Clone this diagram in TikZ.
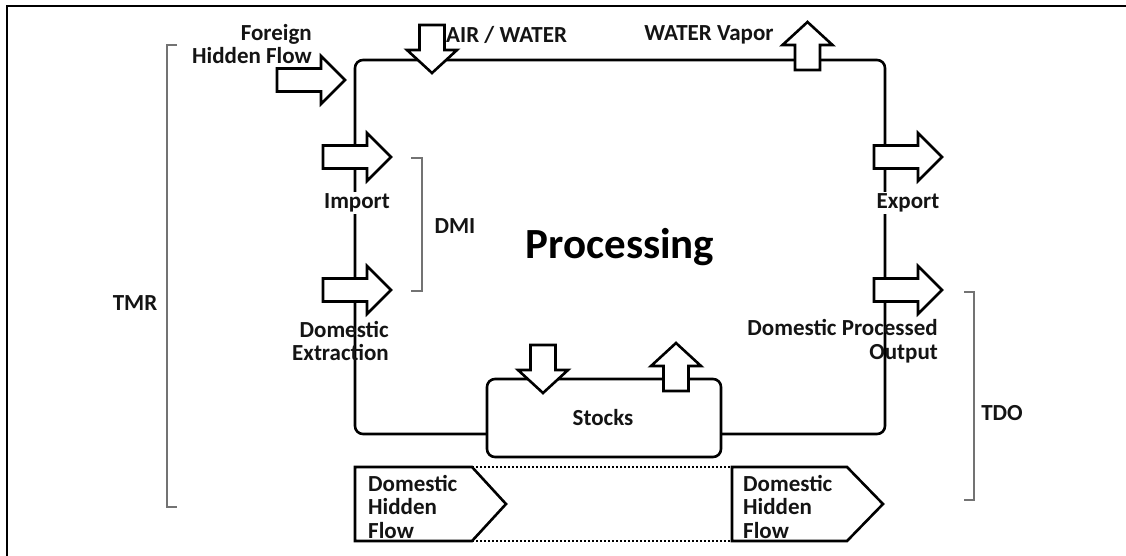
\documentclass[tikz,border=0pt]{standalone}
\usepackage{fontspec}
\setmainfont{Carlito}
\begin{document}
\begin{tikzpicture}[x=1pt,y=-1pt,
  lbl/.style={font=\fontsize{23}{23.5}\selectfont\bfseries, inner sep=0pt, text=black!92},
  loopline/.style={line width=2.6pt, rounded corners=8pt},
  fat/.style={draw, line width=2.6pt, fill=white, line join=miter},
  brk/.style={draw=black!55, line width=1.5pt},
  pent/.style={draw, line width=2.6pt, line join=miter},
  dotline/.style={line width=2pt, dash pattern=on 2pt off 2pt},
  harrow/.pic={\draw[fat] (0,-11.5) -- (44,-11.5) -- (44,-24) -- (68,0) -- (44,24) -- (44,11.5) -- (0,11.5) -- cycle;},
  varrow/.pic={\draw[fat] (-12.5,0) -- (-12.5,25) -- (-25,25) -- (0,48) -- (25,25) -- (12.5,25) -- (12.5,0) -- cycle;}
]
\useasboundingbox (0,0) rectangle (1126,555);
% outer frame (cropped)
\draw[line width=2pt] (7,560) -- (7,6) -- (1130,6);

% main loop
\coordinate (bl) at (355,434);
\coordinate (tl) at (355,60);
\coordinate (tr) at (885,60);
\coordinate (br) at (885,434);
\coordinate (sl) at (487,434);
\coordinate (sr) at (721,434);
\draw[loopline] (sl) -- (bl) -- (tl) -- (tr) -- (br) -- (sr);

% stocks
\node[draw, line width=2.6pt, rounded corners=8pt, fill=white, minimum width=234pt, minimum height=78pt, inner sep=0pt] (stocks) at (604,418) {};
\node[lbl] (stockslbl) at (603,418) {Stocks};

% labels interrupting lines
\node[lbl, fill=white, inner sep=2pt] (import) at (357,203) {Import};
\node[lbl, fill=white, inner sep=2pt] (export) at (908,203) {Export};

% arrows
\pic at (277,80) {harrow};
\pic at (323,157) {harrow};
\pic at (323,290) {harrow};
\pic at (874,157) {harrow};
\pic at (874,290) {harrow};
\pic at (432,25) {varrow};
\pic[yscale=-1] at (807.5,70) {varrow};
\pic at (543,345) {varrow};
\pic[yscale=-1] at (676,391) {varrow};

% other labels
\node[lbl, align=right, anchor=east] (fhf) at (312,44) {Foreign\\Hidden Flow};
\node[lbl, anchor=west] (air) at (446,35) {AIR / WATER};
\node[lbl] (vapor) at (709,35) {WATER Vapor};
\node[lbl] (dmi) at (455,226) {DMI};
\node[lbl, align=right, anchor=east] (dext) at (389,341) {Domestic\\Extraction};
\node[lbl, align=right, anchor=east] (dpo) at (938,341) {Domestic Processed\\Output};
\node[lbl] (tmr) at (135,303) {TMR};
\node[lbl] (tdo) at (1002,413) {TDO};
\node[font=\fontsize{43}{43}\selectfont\bfseries, inner sep=0pt] (proc) at (620,247) {Processing};

% brackets
\draw[brk] (177,45) -- (167,45) -- (167,507) -- (177,507);
\draw[brk] (411,158) -- (422,158) -- (422,291) -- (411,291);
\draw[brk] (964,292) -- (974,292) -- (974,500) -- (964,500);

% domestic hidden flows
\coordinate (p1a) at (355,467);
\coordinate (p1b) at (472,467);
\coordinate (p1c) at (506,504);
\coordinate (p1d) at (472,541);
\coordinate (p1e) at (355,541);
\draw[pent] (p1a) -- (p1b) -- (p1c) -- (p1d) -- (p1e) -- cycle;
\coordinate (p2a) at (732,467);
\coordinate (p2b) at (847,467);
\coordinate (p2c) at (883,504);
\coordinate (p2d) at (847,541);
\coordinate (p2e) at (732,541);
\draw[pent] (p2a) -- (p2b) -- (p2c) -- (p2d) -- (p2e) -- cycle;
\draw[dotline] (p1b) -- (p2a);
\draw[dotline] (p1d) -- (p2e);
\node[lbl, align=left, anchor=north west] (dhf1) at (368,475) {Domestic\\Hidden\\Flow};
\node[lbl, align=left, anchor=north west] (dhf2) at (743,475) {Domestic\\Hidden\\Flow};
\end{tikzpicture}
\end{document}
